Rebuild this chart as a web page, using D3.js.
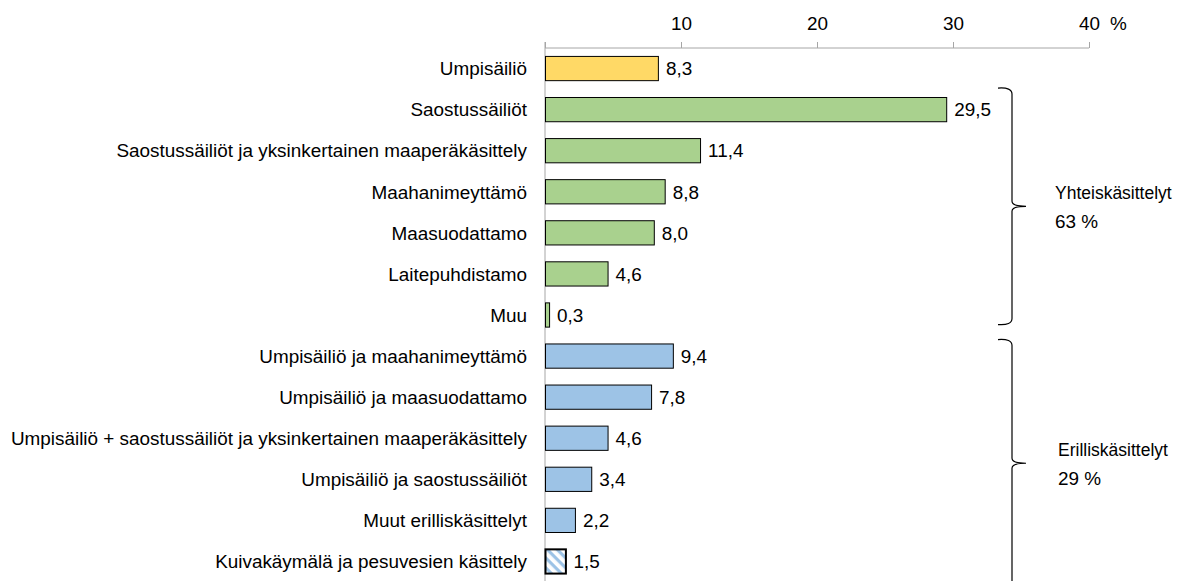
<!DOCTYPE html>
<html>
<head>
<meta charset="utf-8">
<script src="https://cdn.jsdelivr.net/npm/d3@7"></script>
<style>
  body { margin: 0; background: #fff; }
  svg text { font-family: "Liberation Sans", Arial, sans-serif; fill: #000; }
</style>
</head>
<body>
<svg id="chart" width="1192" height="581"></svg>
<script>
// data
var categories = [
    "Umpisäiliö",
    "Saostussäiliöt",
    "Saostussäiliöt ja yksinkertainen maaperäkäsittely",
    "Maahanimeyttämö",
    "Maasuodattamo",
    "Laitepuhdistamo",
    "Muu",
    "Umpisäiliö ja maahanimeyttämö",
    "Umpisäiliö ja maasuodattamo",
    "Umpisäiliö + saostussäiliöt ja yksinkertainen maaperäkäsittely",
    "Umpisäiliö ja saostussäiliöt",
    "Muut erilliskäsittelyt",
    "Kuivakäymälä ja pesuvesien käsittely"
];
var values = [8.3, 29.5, 11.4, 8.8, 8.0, 4.6, 0.3, 9.4, 7.8, 4.6, 3.4, 2.2, 1.5];
var kinds = ["umpi", "yhteis", "yhteis", "yhteis", "yhteis", "yhteis", "yhteis",
             "eril", "eril", "eril", "eril", "eril", "kuiva"];
var ticks = [10, 20, 30, 40];
var groups = ["Yhteiskäsittelyt", "Erilliskäsittelyt"];
var groupShares = ["63 %", "29 %"];
var groupStart = [1, 7];
var groupEnd = [6, 12];

var fills = {umpi: "#FFD966", yhteis: "#A9D18E", eril: "#9DC3E6", kuiva: "url(#hatch)"};
var formatter = function(v){ return d3.format(".1f")(v).replace(".", ","); };
var FONT = "18.9px";

var svg = d3.select("#chart");

var defs = svg.append("defs");
var pat = defs.append("pattern")
    .attr("id", "hatch")
    .attr("patternUnits", "userSpaceOnUse")
    .attr("width", 7).attr("height", 7)
    .attr("patternTransform", "rotate(45)");
pat.append("rect").attr("width", 7).attr("height", 7).attr("fill", "#fff");
pat.append("rect").attr("width", 7).attr("height", 3.2).attr("fill", "#9DC3E6");

var x = d3.scaleLinear().domain([0, 40]).range([545, 1089]);
var y = d3.scaleBand().domain(categories).range([48, 582]).paddingInner(0.41).paddingOuter(0.205);

// top axis
var axis = svg.append("g")
    .attr("transform", "translate(0,48)")
    .call(d3.axisTop(x).tickValues([0].concat(ticks)).tickSize(6).tickFormat(function(d){ return d === 0 ? "" : d; }));
axis.select(".domain").attr("stroke", "#a6a6a6").attr("d", "M" + x(0) + ",0H" + x(40));
axis.selectAll(".tick line").attr("stroke", "#a6a6a6");
axis.selectAll(".tick text")
    .attr("y", -18)
    .style("font-size", FONT)
    .style("font-family", "Liberation Sans, Arial, sans-serif")
    .attr("fill", "#000");

svg.append("text")
    .attr("x", x(40) + 21)
    .attr("y", 30)
    .style("font-size", FONT)
    .text("%");

// vertical axis line
svg.append("line")
    .attr("x1", x(0)).attr("x2", x(0))
    .attr("y1", 42).attr("y2", 581)
    .attr("stroke", "#a6a6a6");

// bars
var rows = svg.selectAll(".bar")
    .data(categories)
    .enter()
    .append("g")
    .attr("class", "bar");

rows.append("rect")
    .attr("x", x(0) + 0.5)
    .attr("y", function(d){ return y(d); })
    .attr("width", function(d, i){ return x(values[i]) - x(0); })
    .attr("height", y.bandwidth())
    .attr("fill", function(d, i){ return fills[kinds[i]]; })
    .attr("stroke", "#000")
    .attr("stroke-width", function(d, i){ return kinds[i] === "kuiva" ? 2 : 1; });

rows.append("text")
    .attr("class", "value")
    .attr("x", function(d, i){ return x(values[i]) + 8; })
    .attr("y", function(d){ return y(d) + y.bandwidth() / 2; })
    .attr("dy", "0.36em")
    .style("font-size", FONT)
    .text(function(d, i){ return formatter(values[i]); });

rows.append("text")
    .attr("class", "cat")
    .attr("x", x(0) - 18)
    .attr("y", function(d){ return y(d) + y.bandwidth() / 2; })
    .attr("dy", "0.36em")
    .attr("text-anchor", "end")
    .style("font-size", FONT)
    .text(function(d){ return d; });

// braces
function bracePath(xb, top, bottom){
    var mid = (top + bottom) / 2;
    return "M" + (xb - 14) + "," + top +
        " Q" + xb + "," + (top - 1) + " " + xb + "," + (top + 6) +
        " L" + xb + "," + (mid - 5) +
        " Q" + xb + "," + mid + " " + (xb + 14) + "," + mid +
        " Q" + xb + "," + mid + " " + xb + "," + (mid + 5) +
        " L" + xb + "," + (bottom - 6) +
        " Q" + xb + "," + (bottom + 1) + " " + (xb - 14) + "," + bottom;
}

var braceOffsets = [[-1, -11], [4, 5]];
groups.forEach(function(g, i){
    var gap = (y.step() - y.bandwidth()) / 2;
    var top = y(categories[groupStart[i]]) - gap + braceOffsets[i][0];
    var bottom = y(categories[groupEnd[i]]) + y.bandwidth() + gap + braceOffsets[i][1];
    var mid = (top + bottom) / 2;
    svg.append("path")
        .attr("d", bracePath(1012, top, bottom))
        .attr("fill", "none")
        .attr("stroke", "#000")
        .attr("stroke-width", 1.2);
    svg.append("text")
        .attr("x", 1055 + i * 3)
        .attr("y", mid - 7)
        .style("font-size", "17.5px")
        .text(g);
    svg.append("text")
        .attr("x", 1055 + i * 3)
        .attr("y", mid + 22)
        .style("font-size", FONT)
        .text(groupShares[i]);
});
</script>
</body>
</html>
